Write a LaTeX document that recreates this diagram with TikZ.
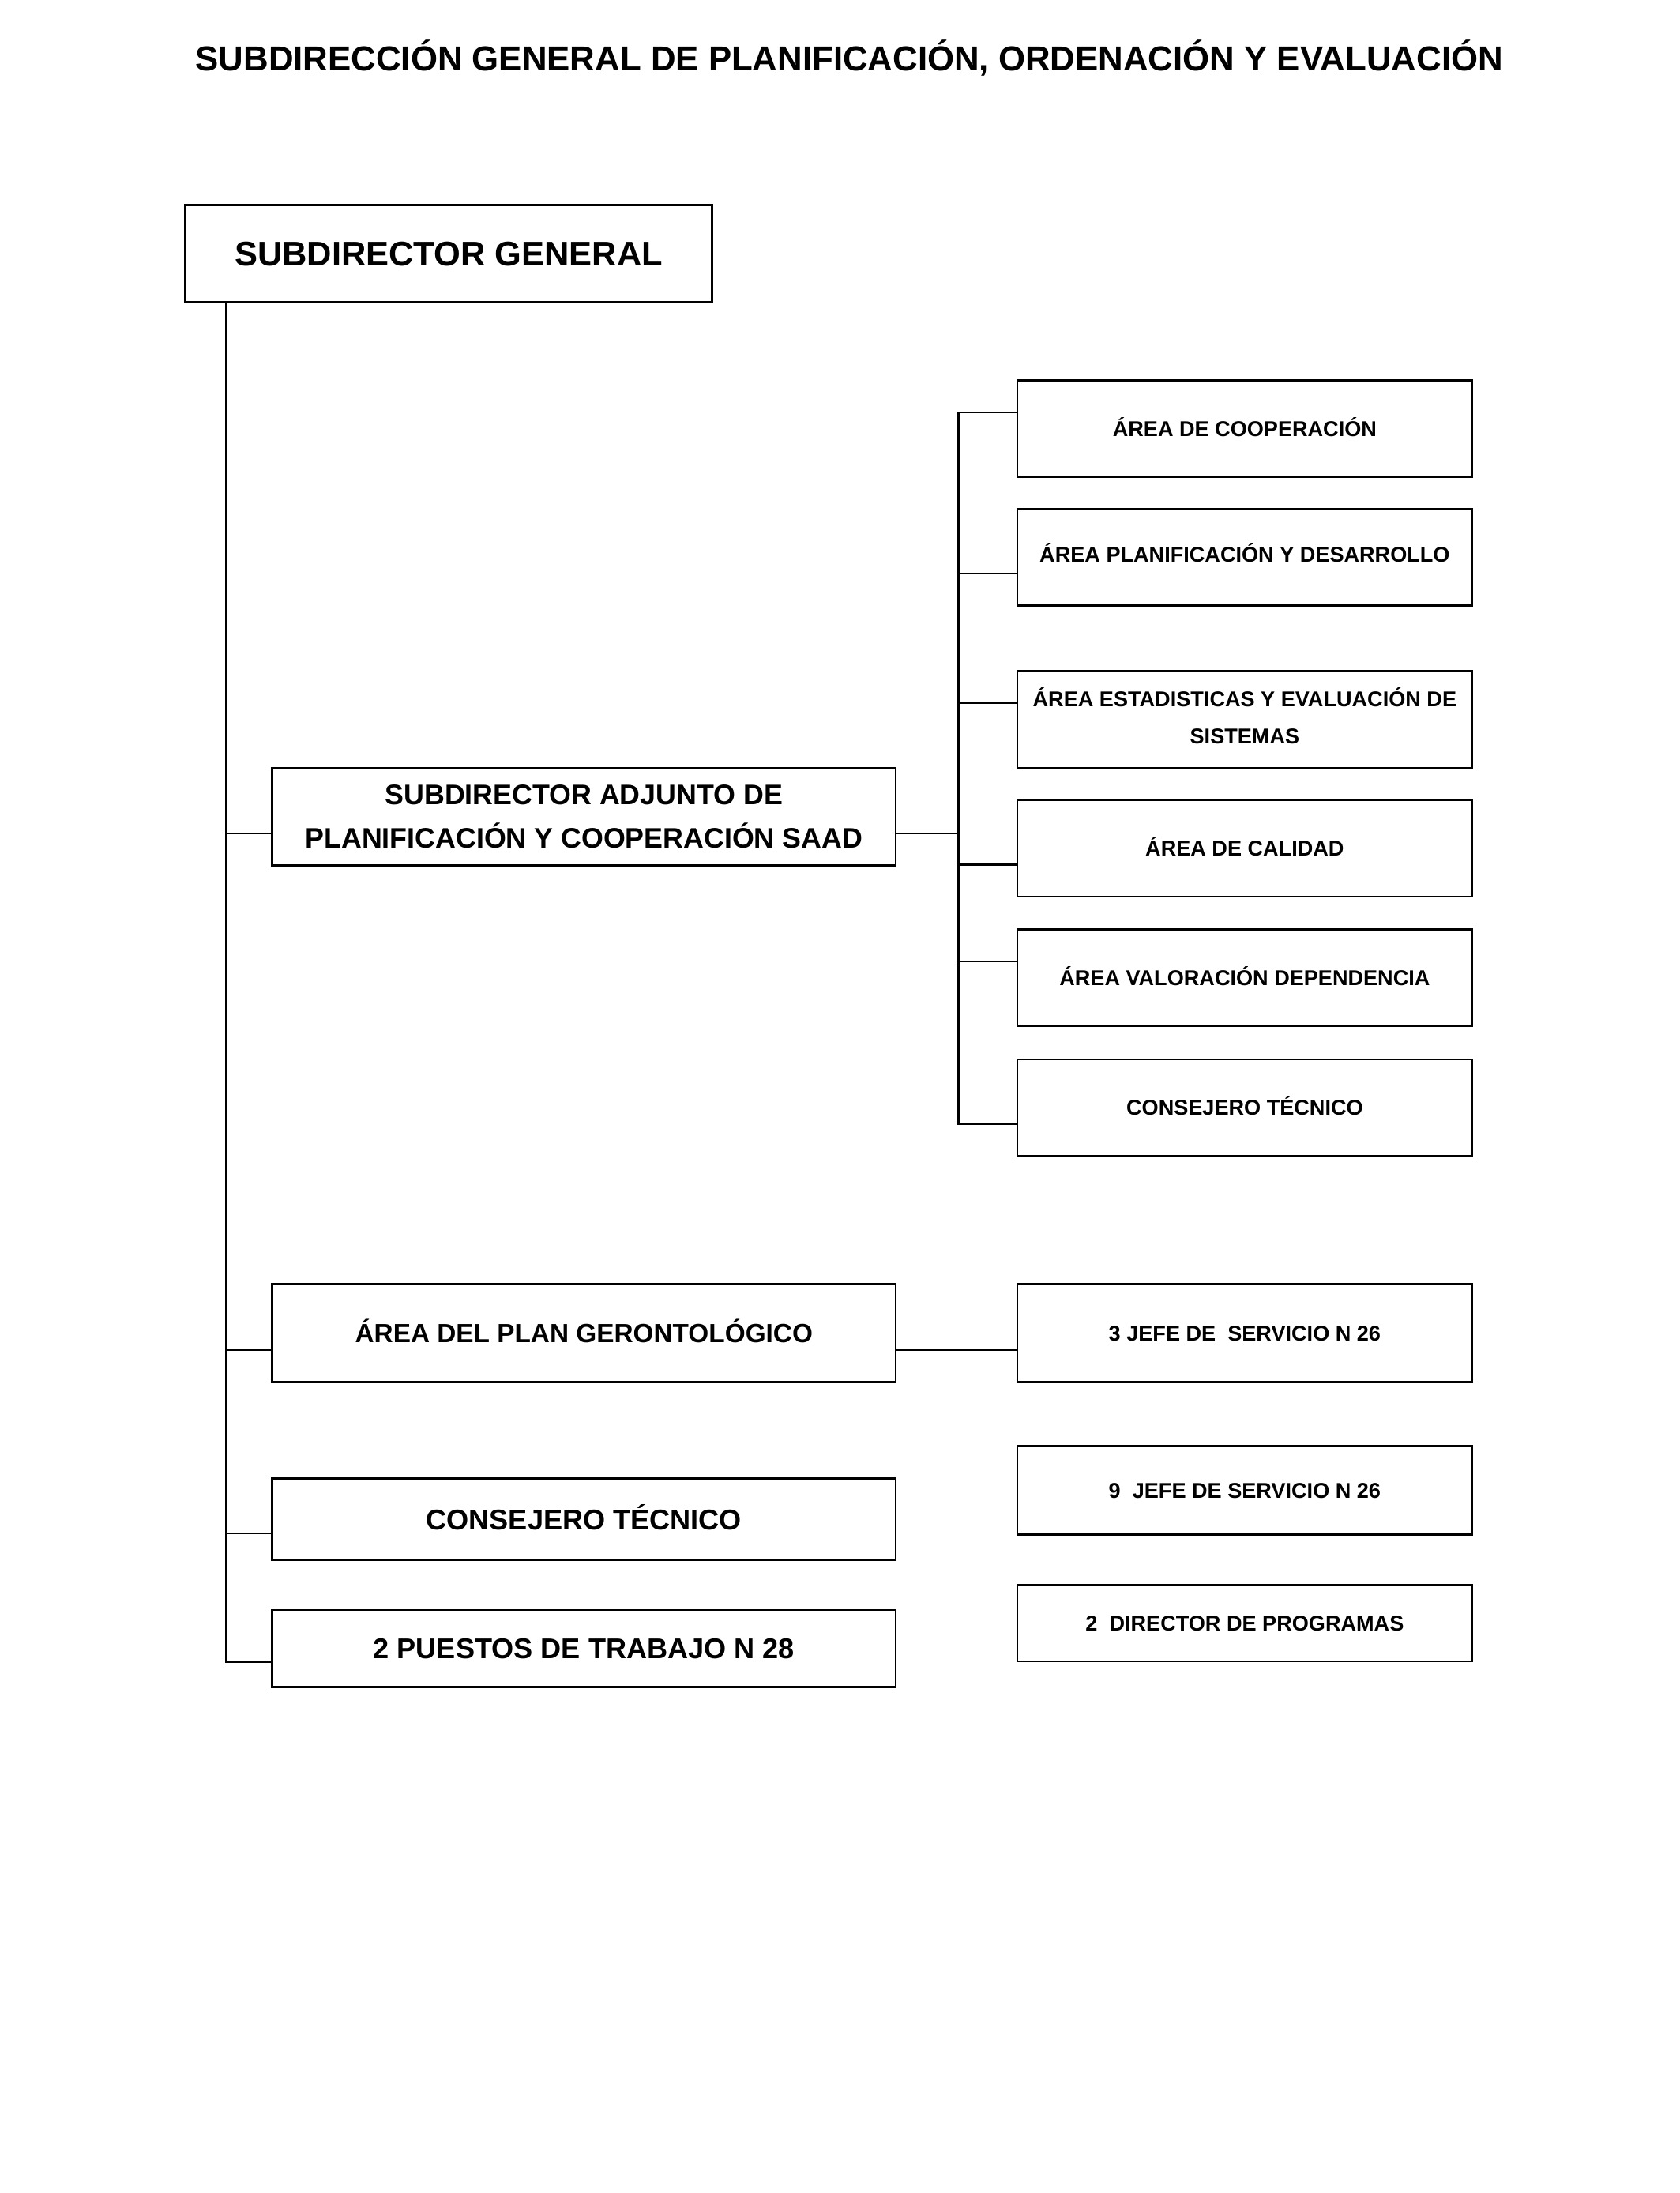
\documentclass[tikz,border=0pt]{standalone}
\usepackage{fontspec}
\setmainfont{Liberation Sans}
\usetikzlibrary{calc}
\tikzset{
  box/.style={draw, line width=0.8pt, inner sep=0pt, align=center},
  conn/.style={line width=0.75pt},
  rbox/.style={box, minimum width=165.75pt, minimum height=35.2pt, font=\fontsize{7.8}{13.5}\selectfont\bfseries},
  rsingle/.style={rbox, text height=5.6pt, text depth=0pt},
  lbox/.style={box, minimum width=227.2pt},
}
\begin{document}
\begin{tikzpicture}[x=0.51pt,y=-0.51pt]
\useasboundingbox (0,0) rectangle (1200,1566.9);
\fill[white] (0,0) rectangle (1200,1566.9);

\node[font=\fontsize{12.6}{15}\selectfont\bfseries, anchor=base, inner sep=0pt] (title) at (607,50.4)
  {SUBDIRECCIÓN GENERAL DE PLANIFICACIÓN, ORDENACIÓN Y EVALUACIÓN};

\node[box, minimum width=192.1pt, minimum height=35.5pt, font=\fontsize{12.5}{15}\selectfont\bfseries, text height=9pt, text depth=0pt] (SG) at (320.7,181.2) {SUBDIRECTOR GENERAL};

% left column
\node[lbox, minimum height=35.5pt, font=\fontsize{10.3}{15.8}\selectfont\bfseries] (Adj) at (417.3,583.6)
  {SUBDIRECTOR ADJUNTO DE\\PLANIFICACIÓN Y COOPERACIÓN SAAD};
\node[lbox, minimum height=35.6pt, font=\fontsize{9.6}{11}\selectfont\bfseries, text height=6.9pt, text depth=0pt] (Ger) at (417.3,952.6) {ÁREA DEL PLAN GERONTOLÓGICO};
\node[lbox, minimum height=29.7pt, font=\fontsize{10.4}{12}\selectfont\bfseries, text height=7.5pt, text depth=0pt] (Con) at (417.3,1085.6) {CONSEJERO TÉCNICO};
\node[lbox, minimum height=28.05pt, font=\fontsize{10.4}{12}\selectfont\bfseries, text height=7.5pt, text depth=0pt] (Pue) at (417.3,1177.8) {2 PUESTOS DE TRABAJO N 28};

% right column
\node[rsingle] (Coop) at (889.5,306.4) {ÁREA DE COOPERACIÓN};
\node[rsingle, text depth=2pt] (PlanD) at (889.5,398.1) {ÁREA PLANIFICACIÓN Y DESARROLLO};
\node[rbox] (Estad) at (889.5,514.2) {ÁREA ESTADISTICAS Y EVALUACIÓN DE\\SISTEMAS\rule[-2.8pt]{0pt}{0pt}};
\node[rsingle] (Cal) at (889.5,606.1) {ÁREA DE CALIDAD};
\node[rsingle] (Val) at (889.5,698.7) {ÁREA VALORACIÓN DEPENDENCIA};
\node[rsingle] (ConR) at (889.5,791.4) {CONSEJERO TÉCNICO};
\node[rsingle, minimum height=35.6pt] (J3) at (889.5,952.6) {3 JEFE DE \ SERVICIO N 26};
\node[rsingle, minimum height=32.4pt] (J9) at (889.5,1064.8) {9 \ JEFE DE SERVICIO N 26};
\node[rsingle, minimum height=27.8pt] (Dir) at (889.5,1159.8) {2 \ DIRECTOR DE PROGRAMAS};

% reference coordinates
\coordinate (lb) at (161.5,0);
\coordinate (bus) at (685,0);
\coordinate (aAdj) at ($(Adj.north west)!2/3!(Adj.south west)$);
\coordinate (aGer) at ($(Ger.north west)!2/3!(Ger.south west)$);
\coordinate (aCon) at ($(Con.north west)!2/3!(Con.south west)$);
\coordinate (aPue) at ($(Pue.north west)!2/3!(Pue.south west)$);
\coordinate (cCoop) at ($(Coop.north west)!1/3!(Coop.south west)$);
\coordinate (cPlanD) at ($(PlanD.north west)!2/3!(PlanD.south west)$);
\coordinate (cEstad) at ($(Estad.north west)!1/3!(Estad.south west)$);
\coordinate (cCal) at ($(Cal.north west)!2/3!(Cal.south west)$);
\coordinate (cVal) at ($(Val.north west)!1/3!(Val.south west)$);
\coordinate (cConR) at ($(ConR.north west)!2/3!(ConR.south west)$);

% left trunk
\draw[conn] (SG.south -| lb) |- (aPue);
\draw[conn] (lb |- aAdj) -- (aAdj);
\draw[conn] (lb |- aGer) -- (aGer);
\draw[conn] (lb |- aCon) -- (aCon);

% adjunto to right bus
\draw[conn] (Adj.east |- aAdj) -- (bus |- aAdj);
\draw[conn] (cCoop) -| (bus |- cConR) -- (cConR);
\draw[conn] (bus |- cPlanD) -- (cPlanD);
\draw[conn] (bus |- cEstad) -- (cEstad);
\draw[conn] (bus |- cCal) -- (cCal);
\draw[conn] (bus |- cVal) -- (cVal);

% gerontologico to jefe
\draw[conn] (Ger.east |- aGer) -- (J3.west |- aGer);
\end{tikzpicture}
\end{document}
